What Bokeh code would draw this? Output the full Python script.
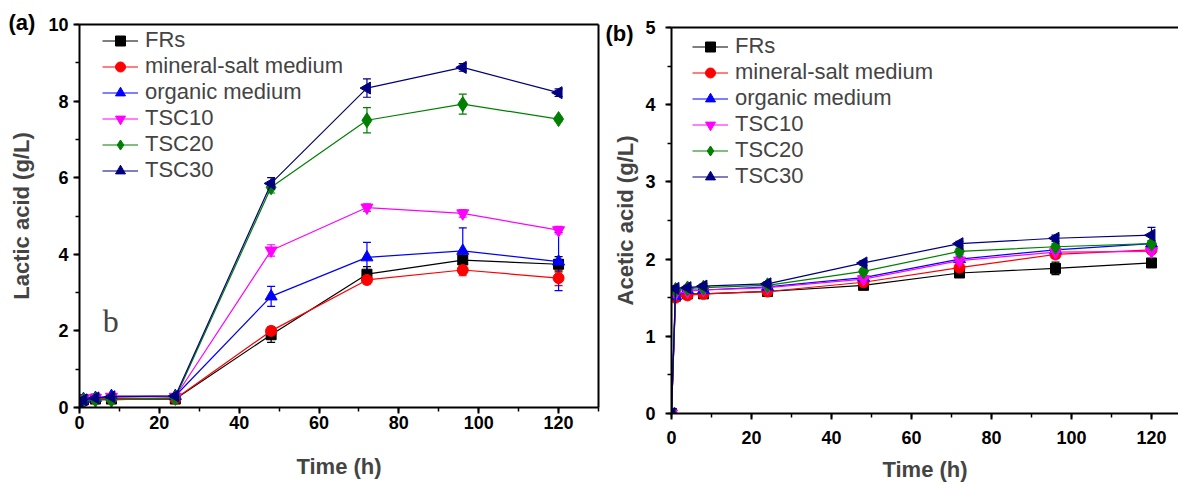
import math
from bokeh.plotting import figure
from bokeh.layouts import row, column
from bokeh.models import (ColumnDataSource, Whisker, TeeHead, LinearAxis, Legend, LegendItem,
                          Label, Range1d, SingleIntervalTicker, FixedTicker, Title)
from bokeh.embed import file_html
from bokeh.resources import INLINE

# ---------------- data ----------------
time_h = [0, 1, 4, 8, 24, 48, 72, 96, 120]
series_names = ["FRs", "mineral-salt medium", "organic medium", "TSC10", "TSC20", "TSC30"]

lactic_FRs = [0.10, 0.20, 0.22, 0.22, 0.22, 1.90, 3.48, 3.85, 3.74]
lactic_mineral = [0.10, 0.20, 0.22, 0.23, 0.23, 2.00, 3.33, 3.59, 3.38]
lactic_organic = [0.10, 0.22, 0.25, 0.30, 0.30, 2.90, 3.92, 4.09, 3.81]
lactic_TSC10 = [0.10, 0.22, 0.25, 0.28, 0.28, 4.10, 5.22, 5.07, 4.63]
lactic_TSC20 = [0.10, 0.18, 0.20, 0.20, 0.25, 5.75, 7.50, 7.92, 7.53]
lactic_TSC30 = [0.10, 0.20, 0.25, 0.28, 0.30, 5.85, 8.34, 8.88, 8.22]

lactic_err_FRs = [0.02, 0.05, 0.05, 0.05, 0.05, 0.20, 0.20, 0.10, 0.20]
lactic_err_mineral = [0.02, 0.05, 0.05, 0.05, 0.05, 0.10, 0.10, 0.15, 0.20]
lactic_err_organic = [0.02, 0.05, 0.05, 0.05, 0.05, 0.26, 0.39, 0.60, 0.76]
lactic_err_TSC10 = [0.02, 0.05, 0.05, 0.05, 0.05, 0.15, 0.10, 0.10, 0.10]
lactic_err_TSC20 = [0.02, 0.05, 0.05, 0.05, 0.05, 0.15, 0.33, 0.26, 0.05]
lactic_err_TSC30 = [0.02, 0.05, 0.05, 0.05, 0.05, 0.15, 0.24, 0.10, 0.10]

acetic_FRs = [0.00, 1.52, 1.55, 1.55, 1.58, 1.66, 1.82, 1.88, 1.95]
acetic_mineral = [0.00, 1.50, 1.53, 1.55, 1.58, 1.70, 1.89, 2.06, 2.12]
acetic_organic = [0.00, 1.52, 1.60, 1.60, 1.64, 1.76, 2.00, 2.12, 2.20]
acetic_TSC10 = [0.00, 1.55, 1.58, 1.60, 1.63, 1.74, 1.98, 2.09, 2.10]
acetic_TSC20 = [0.00, 1.60, 1.62, 1.63, 1.66, 1.84, 2.10, 2.16, 2.20]
acetic_TSC30 = [0.00, 1.62, 1.63, 1.65, 1.68, 1.95, 2.20, 2.27, 2.31]

acetic_err_FRs = [0.0, 0.03, 0.03, 0.03, 0.03, 0.03, 0.04, 0.08, 0.03]
acetic_err_mineral = [0.0, 0.03, 0.03, 0.03, 0.03, 0.03, 0.04, 0.05, 0.03]
acetic_err_organic = [0.0, 0.03, 0.03, 0.03, 0.03, 0.03, 0.04, 0.04, 0.04]
acetic_err_TSC10 = [0.0, 0.03, 0.03, 0.03, 0.03, 0.03, 0.04, 0.04, 0.03]
acetic_err_TSC20 = [0.0, 0.03, 0.03, 0.03, 0.03, 0.03, 0.04, 0.04, 0.03]
acetic_err_TSC30 = [0.0, 0.03, 0.03, 0.03, 0.03, 0.03, 0.03, 0.04, 0.10]

colors = ["#000000", "#ff0000", "#0000ff", "#ff00ff", "#008000", "#000080"]
markers = ["square", "circle", "triangle", "inverted_triangle", "diamond", "triangle"]
angles = [0, 0, 0, 0, 0, math.pi / 2]
msizes = [10, 11, 12, 12, 15, 12]

lactic = [lactic_FRs, lactic_mineral, lactic_organic, lactic_TSC10, lactic_TSC20, lactic_TSC30]
lactic_err = [lactic_err_FRs, lactic_err_mineral, lactic_err_organic, lactic_err_TSC10,
              lactic_err_TSC20, lactic_err_TSC30]
acetic = [acetic_FRs, acetic_mineral, acetic_organic, acetic_TSC10, acetic_TSC20, acetic_TSC30]
acetic_err = [acetic_err_FRs, acetic_err_mineral, acetic_err_organic, acetic_err_TSC10,
              acetic_err_TSC20, acetic_err_TSC30]

FONT = "Liberation Sans"
TICK_SIZE = "18px"
LABEL_SIZE = "22px"


def style_axis(ax, ticker):
    ax.ticker = ticker
    ax.axis_line_width = 2
    ax.axis_line_color = "black"
    ax.major_tick_line_width = 2
    ax.minor_tick_line_width = 1.5
    ax.major_tick_out = 6
    ax.major_tick_in = 0
    ax.minor_tick_out = 4
    ax.minor_tick_in = 0
    ax.major_label_text_font = FONT
    ax.major_label_text_font_style = "bold"
    ax.major_label_text_font_size = TICK_SIZE
    ax.major_label_text_color = "black"
    ax.axis_label_text_font = FONT
    ax.axis_label_text_font_style = "bold"
    ax.axis_label_text_font_size = LABEL_SIZE


def frame_line(p, side):
    ax = LinearAxis(ticker=FixedTicker(ticks=[]))
    ax.axis_line_width = 2
    ax.axis_line_color = "black"
    ax.major_tick_out = 0
    ax.major_tick_in = 0
    ax.minor_tick_out = 0
    ax.minor_tick_in = 0
    ax.major_label_standoff = 0
    ax.axis_label_standoff = 0
    p.add_layout(ax, side)


def panel_tag(p, text, offset, standoff):
    t = Title(text=text, align="left", offset=offset, vertical_align="bottom",
              text_font=FONT, text_font_style="bold", text_font_size="22px", text_color="black")
    try:
        t.standoff = standoff
    except Exception:
        t.standoff = 0
    p.add_layout(t, "above")


def make_panel(width, height, bl, br, bt, bb, xend, yend, ystep, values, errs, ylabel,
               tick_standoff, xlabel_standoff, ytick_standoff, ylabel_standoff,
               legend_x, legend_bottom, right_line):
    p = figure(width=width, height=height, output_backend="svg", toolbar_location=None,
               x_range=Range1d(0, xend), y_range=Range1d(0, yend),
               min_border_left=bl, min_border_right=br, min_border_top=bt, min_border_bottom=bb,
               x_axis_location=None, y_axis_location=None)
    p.outline_line_color = None
    p.grid.visible = False
    p.background_fill_color = "white"
    p.border_fill_color = "white"

    xb = LinearAxis(axis_label="Time (h)")
    style_axis(xb, SingleIntervalTicker(interval=20, num_minor_ticks=2))
    xb.major_label_standoff = tick_standoff
    xb.axis_label_standoff = xlabel_standoff
    p.add_layout(xb, "below")
    yl = LinearAxis(axis_label=ylabel)
    style_axis(yl, SingleIntervalTicker(interval=ystep, num_minor_ticks=2))
    yl.major_label_standoff = ytick_standoff
    yl.axis_label_standoff = ylabel_standoff
    p.add_layout(yl, "left")
    frame_line(p, "above")
    if right_line:
        frame_line(p, "right")

    items = []
    for name, col, mk, ang, ms, v, e in zip(series_names, colors, markers, angles, msizes, values, errs):
        src = ColumnDataSource(dict(x=time_h, y=v,
                                    upper=[a + b for a, b in zip(v, e)],
                                    lower=[a - b for a, b in zip(v, e)]))
        w = Whisker(base="x", upper="upper", lower="lower", source=src,
                    line_color=col, line_width=1.2,
                    upper_head=TeeHead(size=8, line_color=col, line_width=1.2),
                    lower_head=TeeHead(size=8, line_color=col, line_width=1.2))
        p.add_layout(w)
        ln = p.line("x", "y", source=src, line_color=col, line_width=1.2)
        sc = p.scatter("x", "y", source=src, marker=mk, angle=ang, size=ms,
                       fill_color=col, line_color=col)
        items.append(LegendItem(label=name, renderers=[ln, sc]))

    leg = Legend(items=items, location=(legend_x, legend_bottom))
    leg.border_line_color = None
    leg.background_fill_alpha = 0
    leg.padding = 0
    leg.margin = 0
    leg.spacing = 0
    leg.label_text_font = FONT
    leg.label_text_font_size = "22px"
    leg.label_height = 25
    leg.glyph_height = 25
    leg.glyph_width = 36
    leg.label_standoff = 7
    p.add_layout(leg)
    return p


p1 = make_panel(600, 485, 79, 2, 24, 78, 130, 10, 2, lactic, lactic_err, "Lactic acid (g/L)",
                2, 22, 5, 11, 23, 224, True)
p1.add_layout(Label(x=7.8, y=2.25, text="b", text_font="Liberation Serif", text_font_size="32px",
                    text_align="center", text_baseline="middle"))
panel_tag(p1, "(a)", -71, -20)

p2 = make_panel(578, 485, 71, 0, 27, 72, 126.75, 5, 1, acetic, acetic_err, "Acetic acid (g/L)",
                11, 10, 10, 4, 21, 224, False)
panel_tag(p2, "(b)", -66, -36)

layout = row(column(p1), column(p2))
open("out.html", "w").write(file_html(layout, INLINE))
